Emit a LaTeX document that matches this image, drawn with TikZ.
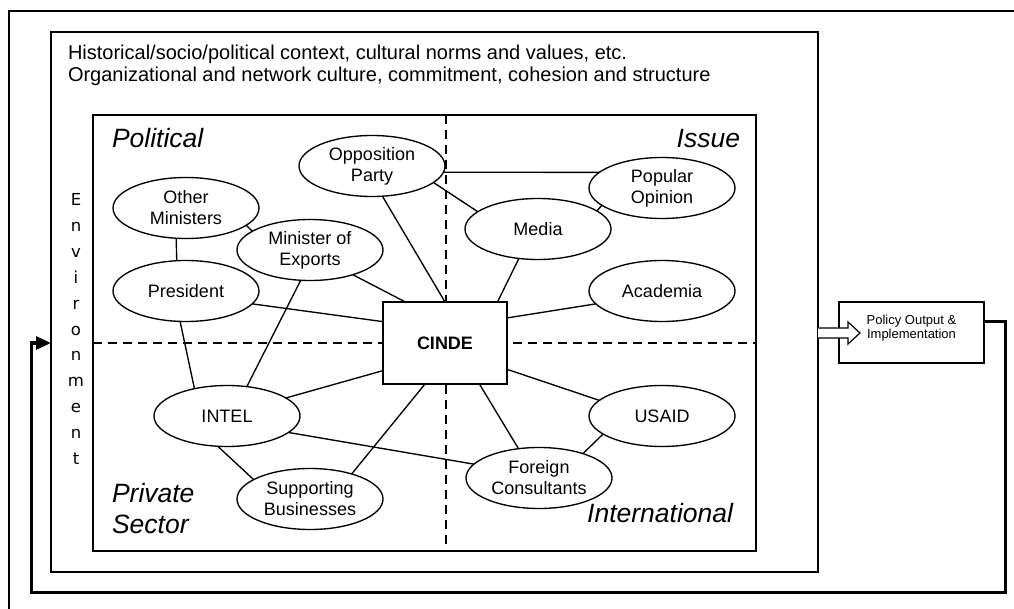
\documentclass[tikz,border=0pt]{standalone}
\usepackage{fontspec}
\setmainfont{Liberation Sans}
\newfontfamily\envfont{DejaVu Sans}
\usetikzlibrary{shapes.geometric,arrows.meta}
\begin{document}
\begin{tikzpicture}[x=1pt,y=-1pt,
  every node/.style={inner sep=0pt, outer sep=0pt},
  ln/.style={line width=1.35pt},
  thk/.style={line width=3pt},
  dsh/.style={line width=1.35pt, dash pattern=on 9pt off 6pt},
  ent/.style={ellipse, draw, line width=1.35pt, fill=white, minimum width=146pt, minimum height=61pt, align=center, font=\fontsize{18}{21}\selectfont},
  ql/.style={font=\itshape\fontsize{26.5}{31}\selectfont},
  ctx/.style={font=\fontsize{20}{23}\selectfont, anchor=base west},
  envl/.style={font=\envfont\fontsize{16.5}{18}\selectfont, anchor=base}
]
\useasboundingbox (0,0) rectangle (1014,609);
% outer frame (cut by the page edge)
\draw[ln] (1014,11) -- (9,11) -- (9,609);
% environment box
\node[draw, ln, minimum width=767pt, minimum height=540pt] (env) at (434.5,302) {};
% quadrant box
\node[draw, ln, minimum width=663pt, minimum height=436pt] (quad) at (424.5,333) {};
\draw[dsh] (446,115) -- (446,551);
\draw[dsh] (93,343) -- (756,343);
% context text
\node[ctx] (ctx1) at (68,59.3) {Historical/socio/political context, cultural norms and values, etc.};
\node[ctx] (ctx2) at (68,81.7) {Organizational and network culture, commitment, cohesion and structure};
% environment letters
\foreach \c [count=\i from 0] in {E,n,v,i,r,o,n,m,e,n,t}
  \node[envl] (envl\i) at (76,206+25.8*\i) {\c};
% quadrant labels
\node[ql, anchor=base west] (lpol) at (112,148) {Political};
\node[ql, anchor=base east] (liss) at (740,148) {Issue};
\node[ql, anchor=base west] (lpriv) at (112,502) {Private};
\node[ql, anchor=base west] (lsect) at (112,533) {Sector};
\node[ql, anchor=base east] (lint) at (733,522) {International};
% actors
\node[ent] (opp) at (372,166) {Opposition\\Party};
\node[ent] (pop) at (662,188) {Popular\\Opinion};
\node[ent] (media) at (538,229) {Media};
\node[ent] (acad) at (662,291) {Academia};
\node[ent] (other) at (186,208) {Other\\Ministers};
\node[ent] (minexp) at (310,250) {Minister of\\Exports};
\node[ent] (pres) at (186,291) {President};
\node[ent] (intel) at (227,416) {INTEL};
\node[ent] (supp) at (310,499) {Supporting\\Businesses};
\node[ent] (usaid) at (662,416) {USAID};
\node[ent] (foreign) at (539,478) {Foreign\\Consultants};
\node[draw, ln, fill=white, minimum width=124pt, minimum height=82pt, font=\bfseries\fontsize{18}{21}\selectfont] (cinde) at (445,343) {CINDE};
% links
\draw[ln] (opp.-71) -- (cinde.north);
\draw[ln] (opp.-5.6) -- (pop.166.6);
\draw[ln] (opp.-15) -- (media.164.4);
\draw[ln] (media.17) -- (pop.196.6);
\draw[ln] (media.-123.7) -- (cinde.38.3);
\draw[ln] (acad.191.8) -- (cinde.22);
\draw[ln] (other.-108.4) -- (pres.107.9);
\draw[ln] (other.-16.4) -- (minexp.162.5);
\draw[ln] (minexp.-30.2) -- (cinde.134.3);
\draw[ln] (pres.-11) -- (cinde.161.3);
\draw[ln] (pres.-101) -- (intel.140.5);
\draw[ln] (minexp.-107) -- (intel.56);
\draw[ln] (intel.17.3) -- (cinde.-156.5);
\draw[ln] (intel.-15.1) -- (foreign.168.5);
\draw[ln] (intel.-107.9) -- (supp.161.9);
\draw[ln] (supp.31.2) -- (cinde.-116);
\draw[ln] (cinde.-23.5) -- (usaid.166);
\draw[ln] (cinde.-50.3) -- (foreign.125.4);
\draw[ln] (usaid.197.9) -- (foreign.29.6);
% policy output
\node[draw, ln, minimum width=145pt, minimum height=61pt] (policy) at (911.5,332.5) {};
\node[font=\fontsize{13}{14.5}\selectfont, align=center] (ptext) at (911.5,328) {Policy Output \&\\Implementation};
\draw[line width=1.2pt, fill=white] (env.east |- 0,328) -- ++(30,0) -- ++(0,-6) -- ++(12,11) -- ++(-12,11) -- ++(0,-6) -- (env.east |- 0,338);
% feedback loop
\draw[thk, -{Triangle[length=15pt,width=13pt]}] (policy.east |- 0,322) -| (1005,592) -| (31,343) -- (env.west |- 0,343);
\end{tikzpicture}
\end{document}
